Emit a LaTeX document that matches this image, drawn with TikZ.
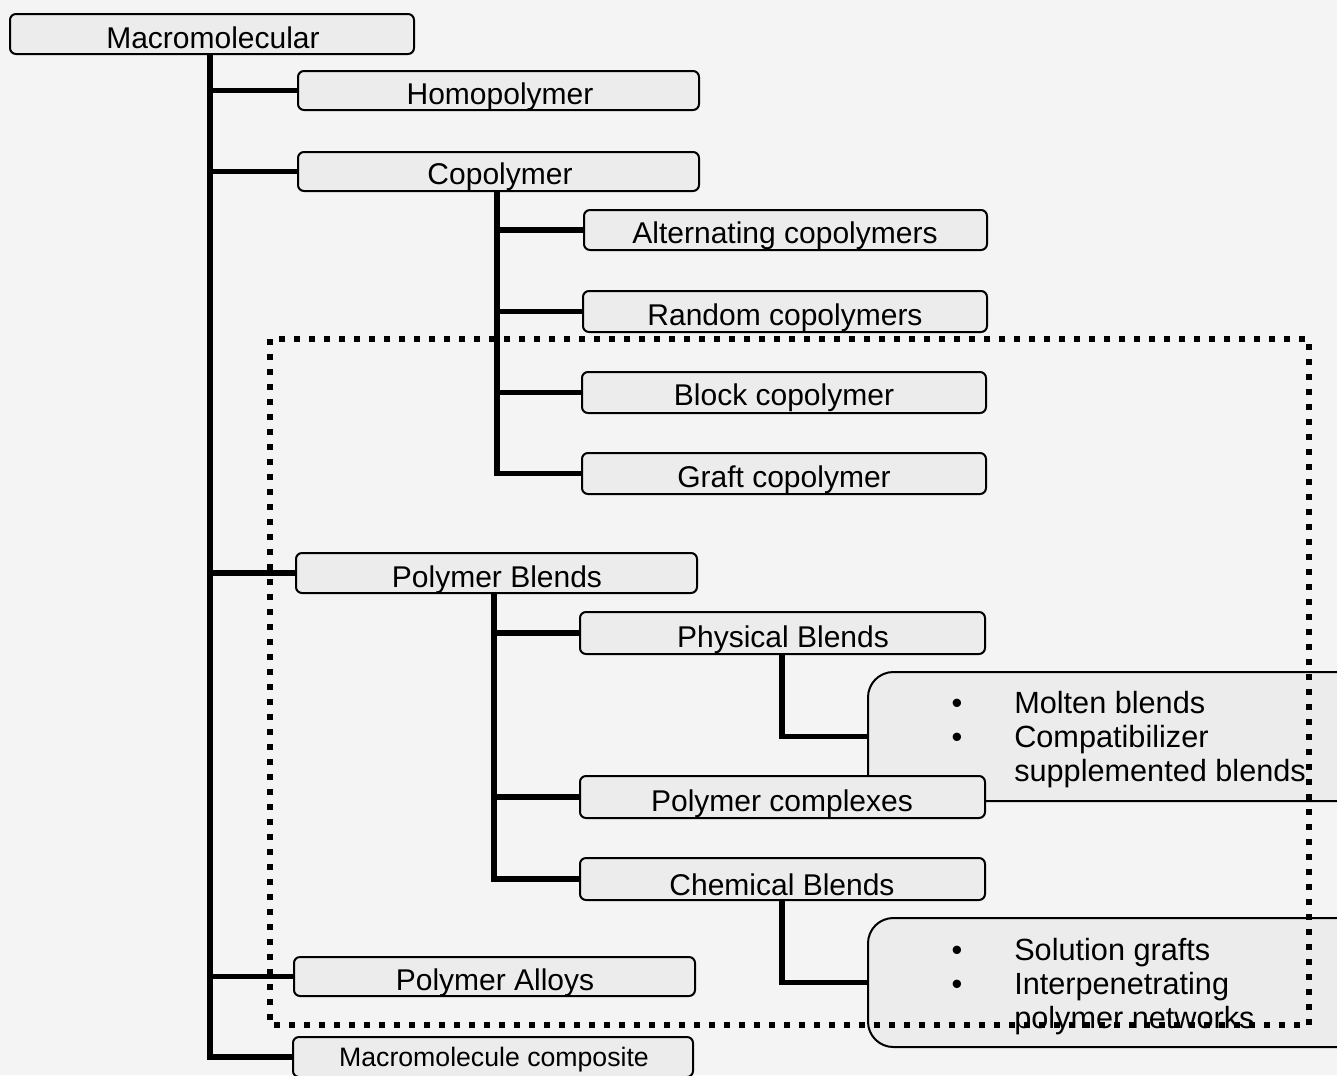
\documentclass[tikz,border=0pt]{standalone}
\usepackage{fontspec}
\setmainfont{Liberation Sans}
\usetikzlibrary{fit}
\definecolor{bgcol}{HTML}{F4F4F4}
\definecolor{boxfill}{HTML}{ECECEC}
\tikzset{
  box/.style={draw=black, line width=1.5pt, rounded corners=4.5pt, fill=boxfill, inner sep=0pt},
  bigbox/.style={draw=black, line width=1.5pt, rounded corners=19pt, fill=boxfill, inner sep=0pt},
  conn/.style={line width=4pt},
  txt/.style={inner sep=0pt, font=\fontsize{22.5}{27}\selectfont},
  bultxt/.style={inner sep=0pt, font=\fontsize{23}{27}\selectfont},
  smalltxt/.style={inner sep=0pt, font=\fontsize{20}{24}\selectfont},
  dotline/.style={line width=4.5pt, dash pattern=on 4.5pt off 6.75pt},
}
\newcommand\BoxTxt[6]{%
  \begin{scope}
    \clip ([yshift=0.75pt]#1.south west) rectangle (#1.north east);
    \node[#3, anchor=base] (#2) at (#4,#5) {#6};
  \end{scope}}
\begin{document}
\begin{tikzpicture}[x=0.75pt, y=-0.75pt]
\useasboundingbox (0,0) rectangle (1337,1075);
\clip (0,0) rectangle (1337,1075);
\fill[bgcol] (0,0) rectangle (1337,1075);

% trunk coordinates
\coordinate (t1) at (210,0);
\coordinate (t2) at (497,0);
\coordinate (t3) at (494,0);
\coordinate (t4) at (782,0);

% big bullet boxes
\node[bigbox, fit={(868,672) (1400,801)}] (molten) {};
\node[bultxt, anchor=base] (mb1) at (957,713) {•};
\node[bultxt, anchor=base west] (m1) at (1014,713) {Molten blends};
\node[bultxt, anchor=base] (mb2) at (957,747) {•};
\node[bultxt, anchor=base west] (m2) at (1014,747) {Compatibilizer};
\node[bultxt, anchor=base west] (m3) at (1014,781) {supplemented blends};

\node[bigbox, fit={(868,918) (1400,1047)}] (sol) {};
\node[bultxt, anchor=base] (sb1) at (957,960) {•};
\node[bultxt, anchor=base west] (s1) at (1014,960) {Solution grafts};
\node[bultxt, anchor=base] (sb2) at (957,994) {•};
\node[bultxt, anchor=base west] (s2) at (1014,994) {Interpenetrating};
\node[bultxt, anchor=base west] (s3) at (1014,1028) {polymer networks};

% boxes
\node[box, fit={(10,14) (414,54)}] (macro) {};
\BoxTxt{macro}{tmacro}{txt}{213}{48}{Macromolecular}
\node[box, fit={(298,71) (699,110)}] (homo) {};
\BoxTxt{homo}{thomo}{txt}{500}{104}{Homopolymer}
\node[box, fit={(298,152) (699,191)}] (copo) {};
\BoxTxt{copo}{tcopo}{txt}{500}{184}{Copolymer}
\node[box, fit={(584,210) (987,250)}] (alt) {};
\BoxTxt{alt}{talt}{txt}{785}{243}{Alternating copolymers}
\node[box, fit={(583,291) (987,332)}] (rand) {};
\BoxTxt{rand}{trand}{txt}{785}{325}{Random copolymers}
\node[box, fit={(582,372) (986,413)}] (block) {};
\BoxTxt{block}{tblock}{txt}{784}{405}{Block copolymer}
\node[box, fit={(582,453) (986,494)}] (graft) {};
\BoxTxt{graft}{tgraft}{txt}{784}{487}{Graft copolymer}
\node[box, fit={(296,553) (697,593)}] (blends) {};
\BoxTxt{blends}{tblends}{txt}{497}{587}{Polymer Blends}
\node[box, fit={(580,612) (985,654)}] (phys) {};
\BoxTxt{phys}{tphys}{txt}{783}{647}{Physical Blends}
\node[box, fit={(580,776) (985,818)}] (compl) {};
\BoxTxt{compl}{tcompl}{txt}{782}{811}{Polymer complexes}
\node[box, fit={(580,858) (985,900)}] (chem) {};
\BoxTxt{chem}{tchem}{txt}{782}{895}{Chemical Blends}
\node[box, fit={(294,957) (695,996)}] (alloys) {};
\BoxTxt{alloys}{talloys}{txt}{495}{990}{Polymer Alloys}
\node[box, fit={(293,1037) (693,1077)}] (comp) {};
\BoxTxt{comp}{tcomp}{smalltxt}{494}{1066}{Macromolecule composite}

% connectors
\draw[conn] (macro.south -| t1) |- (homo.west);
\draw[conn] (macro.south -| t1) |- (copo.west);
\draw[conn] (macro.south -| t1) |- (blends.west);
\draw[conn] (macro.south -| t1) |- (alloys.west);
\draw[conn] (macro.south -| t1) |- (comp.west);

\draw[conn] (copo.south -| t2) |- (alt.west);
\draw[conn] (copo.south -| t2) |- (rand.west);
\draw[conn] (copo.south -| t2) |- (block.west);
\draw[conn] (copo.south -| t2) |- (graft.west);

\draw[conn] (blends.south -| t3) |- (phys.west);
\draw[conn] (blends.south -| t3) |- (compl.west);
\draw[conn] (blends.south -| t3) |- (chem.west);

\draw[conn] (phys.south -| t4) |- (molten.west);
\draw[conn] (chem.south -| t4) |- (sol.west);

% dotted frame
\draw[dotline] (270,339) rectangle (1309,1025);
\end{tikzpicture}
\end{document}
